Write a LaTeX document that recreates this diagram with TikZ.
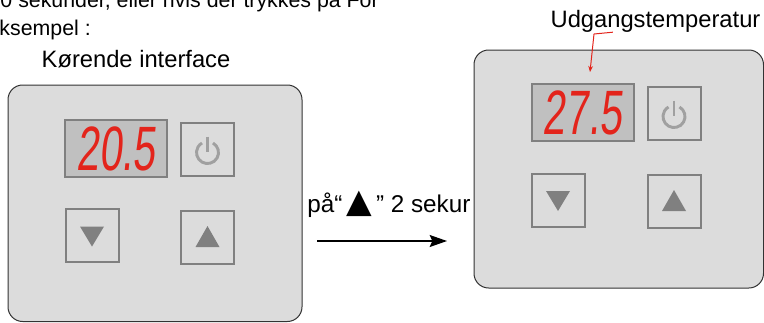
\documentclass[tikz,border=0pt]{standalone}
\usepackage{fontspec}
\setmainfont{Liberation Sans}
\newfontfamily\segfont[FakeSlant=0.1,FakeStretch=0.65]{Liberation Sans}
\newfontfamily\symfont{DejaVu Sans}
\usetikzlibrary{arrows.meta}
\definecolor{panelgray}{RGB}{220,220,220}
\definecolor{dispgray}{RGB}{192,192,192}
\definecolor{keygray}{RGB}{128,128,128}
\definecolor{pwrgray}{RGB}{160,160,160}
\definecolor{segred}{RGB}{227,36,27}
\tikzset{
  panel/.style={draw=black!80,fill=panelgray,line width=0.75pt,rounded corners=11pt},
  display/.style={draw=keygray,fill=dispgray,line width=1.5pt,minimum width=76.5pt,
    minimum height=42.75pt,inner sep=0pt,text=segred,font=\segfont\fontsize{47}{47}\selectfont},
  keybox/.style={draw=keygray,fill=panelgray,line width=1.5pt,minimum size=39.75pt,inner sep=0pt},
  lbltext/.style={font=\fontsize{17.8}{21}\selectfont,inner sep=0pt},
  toptext/.style={font=\fontsize{16}{19}\selectfont,inner sep=0pt},
  pwr/.style={draw=pwrgray,line width=2.2pt},
}

\begin{document}
\begin{tikzpicture}[x=0.75pt,y=-0.75pt]
\useasboundingbox (0,0) rectangle (764,322);
\clip (0,0) rectangle (764,322);
\node[toptext,anchor=base east] (line1) at (379,7) {0 sekunder, eller hvis der trykkes på For};
\node[toptext,anchor=base east] (line2) at (91,35) {eksempel :};
\node[lbltext,anchor=base] (runA) at (136,67) {Kørende interface};
\draw[panel] (8,85) rectangle (302,321.5);
\node[display] (dispA) at (116,148.5) {20.5};
\node[keybox] (pwrA) at (207.5,149.5) {};
\node[keybox] (downA) at (92,235.5) {};
\node[keybox] (upA) at (207.5,237) {};
\draw[pwr] (pwrA.center) ++(5.5,-6.5) arc[start angle=-60,end angle=240,radius=11];
\draw[pwr] (pwrA.center) ++(0,-13) -- ++(0,15);
\fill[keygray] (downA.center) ++(-12,-9) -- ++(24,0) -- ++(-12,20) -- cycle;
\fill[keygray] (upA.center) ++(-12,10) -- ++(24,0) -- ++(-12,-21) -- cycle;
\node[lbltext,font=\fontsize{18.2}{21}\selectfont,anchor=base west] (hold) at (307,212) {på“\,{\symfont\fontsize{25}{25}\selectfont ▲}\,” 2 sekur};
\coordinate (arrS) at (317,241);
\coordinate (arrE) at (447,241);
\draw[-{Stealth[length=13pt,width=9pt,inset=2pt]},line width=1pt] (arrS) -- (arrE);
\draw[panel] (474,50) rectangle (763.5,288);
\node[display] (dispB) at (582.5,112.5) {27.5};
\node[keybox] (pwrB) at (674,113.5) {};
\node[keybox] (downB) at (558,200) {};
\node[keybox] (upB) at (674,201) {};
\draw[pwr] (pwrB.center) ++(5.5,-6.5) arc[start angle=-60,end angle=240,radius=11];
\draw[pwr] (pwrB.center) ++(0,-13) -- ++(0,15);
\fill[keygray] (downB.center) ++(-12,-9) -- ++(24,0) -- ++(-12,20) -- cycle;
\fill[keygray] (upB.center) ++(-12,10) -- ++(24,0) -- ++(-12,-21) -- cycle;
\node[lbltext,anchor=base] (outT) at (655.5,27) {Udgangstemperatur};
\coordinate (tipT) at (590,72);
\draw[segred,line width=0.75pt,-{Stealth[length=4.5pt,width=3.5pt]}] ([xshift=-32pt]outT.south) -- (594,34) -- (tipT);
\end{tikzpicture}
\end{document}
